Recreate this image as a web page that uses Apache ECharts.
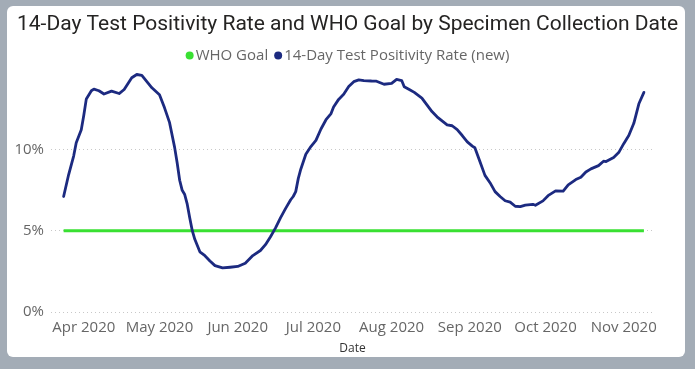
<!DOCTYPE html>
<html>
<head>
<meta charset="utf-8">
<script src="https://cdn.jsdelivr.net/npm/echarts@6/dist/echarts.min.js"></script>
<style>
  html, body { margin: 0; padding: 0; width: 695px; height: 369px; background: #a3acb6; overflow: hidden; }
  #card { position: absolute; left: 7px; top: 6px; width: 678px; height: 351px; background: #ffffff; border-radius: 6px; }
  #chart { position: absolute; left: 0; top: 0; width: 695px; height: 369px; }
</style>
</head>
<body>
<div id="card"></div>
<div id="chart"></div>
<script>
// ---- data ----
const axisStart = '2020-03-19';
const axisEnd = '2020-11-13';
const rateDates = ['2020-03-24','2020-03-26','2020-03-28','2020-03-29','2020-03-31','2020-04-01','2020-04-02','2020-04-04','2020-04-05','2020-04-07','2020-04-09','2020-04-12','2020-04-15','2020-04-17','2020-04-20','2020-04-22','2020-04-24','2020-04-28','2020-05-01','2020-05-03','2020-05-05','2020-05-07','2020-05-08','2020-05-09','2020-05-10','2020-05-11','2020-05-12','2020-05-13','2020-05-14','2020-05-15','2020-05-17','2020-05-19','2020-05-21','2020-05-23','2020-05-26','2020-05-29','2020-06-01','2020-06-04','2020-06-07','2020-06-10','2020-06-12','2020-06-14','2020-06-16','2020-06-18','2020-06-20','2020-06-22','2020-06-23','2020-06-24','2020-06-25','2020-06-26','2020-06-28','2020-06-30','2020-07-02','2020-07-04','2020-07-06','2020-07-08','2020-07-09','2020-07-11','2020-07-13','2020-07-15','2020-07-17','2020-07-19','2020-07-21','2020-07-24','2020-07-26','2020-07-29','2020-08-01','2020-08-03','2020-08-05','2020-08-06','2020-08-08','2020-08-10','2020-08-13','2020-08-15','2020-08-17','2020-08-19','2020-08-21','2020-08-23','2020-08-25','2020-08-27','2020-08-29','2020-08-31','2020-09-02','2020-09-03','2020-09-05','2020-09-07','2020-09-09','2020-09-11','2020-09-13','2020-09-15','2020-09-17','2020-09-19','2020-09-21','2020-09-23','2020-09-26','2020-09-27','2020-09-30','2020-10-02','2020-10-05','2020-10-08','2020-10-10','2020-10-13','2020-10-15','2020-10-17','2020-10-19','2020-10-22','2020-10-24','2020-10-25','2020-10-28','2020-10-30','2020-11-01','2020-11-03','2020-11-05','2020-11-07','2020-11-09'];
const rateValues = [7.1,8.45,9.6,10.4,11.2,12.1,13.1,13.6,13.7,13.6,13.4,13.58,13.43,13.68,14.4,14.6,14.55,13.78,13.35,12.55,11.64,10.12,9.17,8.1,7.48,7.22,6.63,5.78,5.0,4.47,3.7,3.46,3.14,2.85,2.71,2.75,2.8,3.0,3.47,3.78,4.14,4.63,5.17,5.8,6.37,6.9,7.1,7.4,8.2,8.78,9.7,10.17,10.55,11.25,11.82,12.2,12.6,13.07,13.38,13.86,14.16,14.27,14.23,14.2,14.19,14.0,14.05,14.3,14.23,13.85,13.68,13.5,13.15,12.73,12.32,12.0,11.75,11.5,11.45,11.21,10.85,10.46,10.2,10.1,9.25,8.4,7.95,7.4,7.1,6.84,6.75,6.5,6.48,6.57,6.62,6.56,6.83,7.15,7.45,7.43,7.82,8.14,8.28,8.61,8.8,9.0,9.27,9.25,9.5,9.8,10.35,10.85,11.6,12.8,13.5];
const goalDates = ['2020-03-24','2020-11-09'];
const goalValues = [5, 5];
const yTicks = [0, 5, 10];
const monthNames = ['Jan','Feb','Mar','Apr','May','Jun','Jul','Aug','Sep','Oct','Nov','Dec'];

// daily category list for the axis
function dayList(a, b) {
  const out = [];
  let d = new Date(a + 'T00:00:00Z');
  const end = new Date(b + 'T00:00:00Z');
  while (d <= end) {
    out.push(d.toISOString().slice(0, 10));
    d = new Date(d.getTime() + 86400000);
  }
  return out;
}
const categories = dayList(axisStart, axisEnd);

const chart = echarts.init(document.getElementById('chart'), null, { renderer: 'canvas' });
const font = '"Open Sans", "Noto Sans", sans-serif';
chart.setOption({
  animation: false,
  title: {
    text: '14-Day Test Positivity Rate and WHO Goal by Specimen Collection Date',
    left: 'center', top: 9,
    textStyle: { fontFamily: 'Roboto, sans-serif', fontSize: 21, fontWeight: 'normal', color: '#252423' }
  },
  legend: {
    top: 43, left: 'center',
    icon: 'circle', itemWidth: 8, itemHeight: 8, itemGap: 6,
    textStyle: { fontFamily: font, fontSize: 15, color: '#666666', padding: [0, 0, 0, -3] },
    data: ['WHO Goal', '14-Day Test Positivity Rate (new)']
  },
  grid: { left: 51, right: 41, top: 68, bottom: 57, containLabel: false },
  xAxis: {
    type: 'category',
    data: categories,
    boundaryGap: false,
    axisLine: { show: false },
    axisTick: { show: false },
    splitLine: { show: false },
    axisLabel: {
      interval: function (i, v) { return v.slice(8) === '01'; },
      formatter: function (v) { return monthNames[parseInt(v.slice(5, 7), 10) - 1] + ' ' + v.slice(0, 4); },
      fontFamily: font, fontSize: 15, color: '#666666', margin: 8
    },
    name: 'Date', nameLocation: 'middle', nameGap: 31,
    nameTextStyle: { fontFamily: font, fontSize: 12, color: '#333333' }
  },
  yAxis: {
    type: 'value', min: 0, max: 15, interval: 5,
    axisLine: { show: false }, axisTick: { show: false },
    axisLabel: {
      showMaxLabel: false,
      formatter: function (v) { return yTicks.indexOf(v) >= 0 ? v + '%' : ''; },
      fontFamily: font, fontSize: 15, color: '#666666', margin: 7
    },
    splitLine: { show: true, showMaxLine: false, lineStyle: { type: [1, 3], color: '#c8c8c8', width: 1 } }
  },
  series: [
    {
      name: 'WHO Goal', type: 'line', showSymbol: false, symbol: 'circle',
      itemStyle: { color: '#39e032' },
      lineStyle: { color: '#39e032', width: 3 },
      data: goalDates.map((d, i) => [d, goalValues[i]])
    },
    {
      name: '14-Day Test Positivity Rate (new)', type: 'line', showSymbol: false, symbol: 'circle',
      itemStyle: { color: '#1c2a80' },
      lineStyle: { color: '#1c2a80', width: 2.8, join: 'round', cap: 'round' },
      data: rateDates.map((d, i) => [d, rateValues[i]])
    }
  ]
});
</script>
</body>
</html>
